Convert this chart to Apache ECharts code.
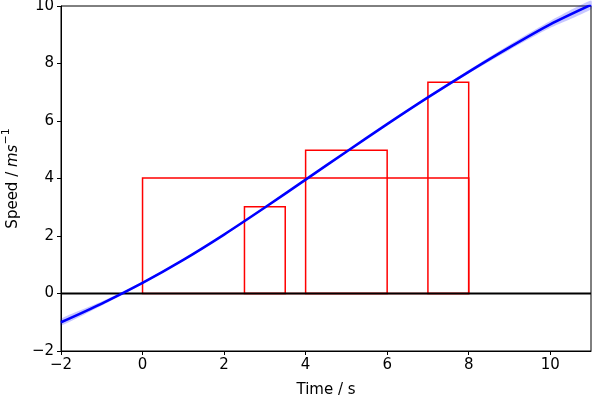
<!DOCTYPE html>
<html>
<head>
<meta charset="utf-8">
<script src="https://cdn.jsdelivr.net/npm/echarts@6/dist/echarts.min.js"></script>
<style>
  html, body { margin: 0; padding: 0; background: #fff; }
  #chart { width: 592px; height: 398px; }
</style>
</head>
<body>
<div id="chart"></div>
<script>
// fitted speed curve
const timeVals = [-2, -1, 0, 1, 2, 3, 4, 5, 6, 7, 8, 9, 10, 11];
const speedVals = [-1.0, -0.35, 0.37, 1.17, 2.05, 2.99, 3.96, 4.93, 5.89, 6.82, 7.71, 8.56, 9.36, 10.04];
// half width of the shaded band round the curve
const bandHalf = [0.12, 0.07, 0.04, 0.03, 0.02, 0.02, 0.02, 0.02, 0.03, 0.04, 0.06, 0.09, 0.12, 0.15];
// rectangles: [start, end, height]
const rects = [
  [0, 8, 4.02],
  [2.5, 3.5, 3.02],
  [4, 6, 4.98],
  [7, 8, 7.35]
];
const baseLine = [[-2, 0], [11, 0]];

const fmt = v => String(v).replace('-', '\u2212');
const FONT = 'DejaVu Sans';
const FS = 15;

const chart = echarts.init(document.getElementById('chart'));

const curveData = timeVals.map((t, i) => [t, speedVals[i]]);

chart.setOption({
  animation: false,
  textStyle: { fontFamily: FONT },
  grid: {
    left: 61, right: 1, top: 6, bottom: 47,
    outerBoundsMode: 'none',
    containLabel: false,
    show: true, borderColor: '#000', borderWidth: 1, backgroundColor: 'transparent'
  },
  xAxis: {
    type: 'value', min: -2, max: 11, interval: 2,
    name: 'Time / s', nameLocation: 'middle', nameGap: 32,
    nameTextStyle: { color: '#000', fontSize: FS, fontFamily: FONT },
    axisLine: { onZero: false, lineStyle: { color: '#000', width: 1 } },
    axisTick: { length: 4, lineStyle: { color: '#000' } },
    axisLabel: { color: '#000', fontSize: FS, margin: 7, formatter: fmt, showMaxLabel: false },
    splitLine: { show: false }
  },
  yAxis: {
    type: 'value', min: -2, max: 10, interval: 2,
    name: '{a|Speed / }{i|ms}{s|\u22121}', nameLocation: 'middle', nameGap: 37, nameRotate: 90,
    nameTextStyle: {
      color: '#000', fontSize: FS, fontFamily: FONT,
      rich: {
        a: { fontSize: FS, fontFamily: FONT, color: '#000', lineHeight: 20, verticalAlign: 'bottom' },
        i: { fontSize: FS, fontFamily: FONT, fontStyle: 'italic', color: '#000', lineHeight: 20, verticalAlign: 'bottom' },
        s: { fontSize: 11, fontFamily: FONT, color: '#000', lineHeight: 20, verticalAlign: 'top' }
      }
    },
    axisLine: { onZero: false, lineStyle: { color: '#000', width: 1 } },
    axisTick: { length: 4, lineStyle: { color: '#000' } },
    axisLabel: { color: '#000', fontSize: FS, margin: 7, formatter: fmt },
    splitLine: { show: false }
  },
  series: [
    {
      // shaded band round the curve
      type: 'custom',
      data: [0],
      silent: true,
      z: 1,
      renderItem: function (params, api) {
        const upper = timeVals.map((t, i) => api.coord([t, speedVals[i] + bandHalf[i]]));
        const lower = timeVals.map((t, i) => api.coord([t, speedVals[i] - bandHalf[i]])).reverse();
        return {
          type: 'polygon',
          shape: { points: upper.concat(lower), smooth: 0.2 },
          style: { fill: 'rgba(0,0,255,0.22)', stroke: null }
        };
      }
    },
    {
      type: 'custom',
      data: rects,
      silent: true,
      z: 2,
      clip: true,
      renderItem: function (params, api) {
        const p0 = api.coord([api.value(0), 0]);
        const p1 = api.coord([api.value(1), api.value(2)]);
        return {
          type: 'rect',
          shape: { x: p0[0], y: p1[1], width: p1[0] - p0[0], height: p0[1] - p1[1] },
          style: { fill: null, stroke: '#ff0000', lineWidth: 1.5 }
        };
      }
    },
    {
      type: 'line',
      data: baseLine,
      symbol: 'none',
      silent: true,
      z: 3,
      lineStyle: { color: '#000', width: 2 }
    },
    {
      type: 'line',
      data: curveData,
      symbol: 'none',
      smooth: 0.3,
      silent: true,
      z: 4,
      lineStyle: { color: '#0000ff', width: 2.6 }
    }
  ]
});
</script>
</body>
</html>
